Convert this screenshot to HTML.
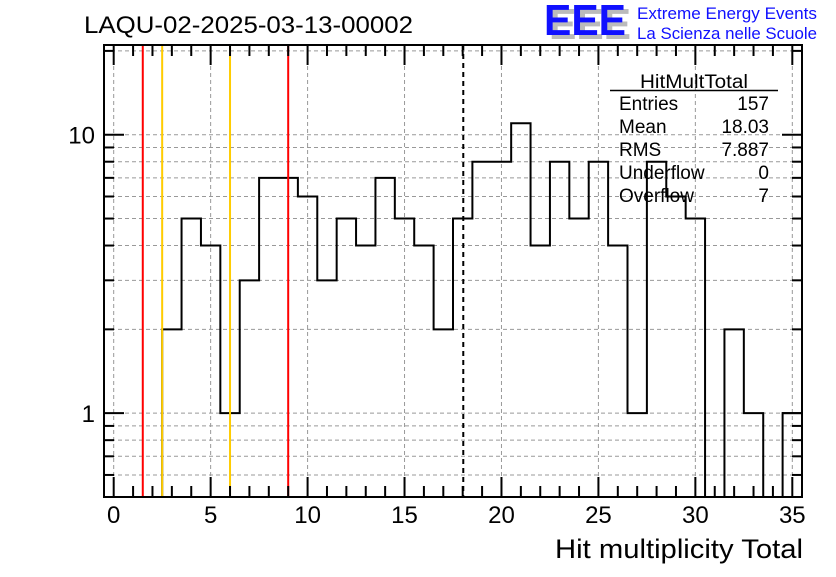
<!DOCTYPE html>
<html><head><meta charset="utf-8"><style>
body{margin:0;background:#fff;width:836px;height:572px;overflow:hidden;font-family:"Liberation Sans",Arial,sans-serif}
</style></head><body>
<svg id="c" width="836" height="572" xmlns="http://www.w3.org/2000/svg" font-family="Liberation Sans, Arial, sans-serif">
<text x="84" y="33" font-size="24" fill="#000" textLength="329" lengthAdjust="spacingAndGlyphs">LAQU-02-2025-03-13-00002</text>
<g>
<text x="549" y="39" font-size="44" font-weight="bold" fill="#bbb" textLength="82" lengthAdjust="spacingAndGlyphs">EEE</text>
<text x="544" y="35" font-size="44" font-weight="bold" fill="#1010ff" textLength="82" lengthAdjust="spacingAndGlyphs">EEE</text>
<text x="637" y="19" font-size="16.5" fill="#1010ff" textLength="180" lengthAdjust="spacingAndGlyphs">Extreme Energy Events</text>
<text x="637" y="39" font-size="16.5" fill="#1010ff" textLength="180" lengthAdjust="spacingAndGlyphs">La Scienza nelle Scuole</text>
</g>
<g id="grid"></g><g id="marks"></g><g id="axes"></g>
<g font-size="19" fill="#000">
<text x="694" y="88" text-anchor="middle" textLength="108" lengthAdjust="spacingAndGlyphs">HitMultTotal</text>
<line x1="610" y1="90.5" x2="778" y2="90.5" stroke="#000" stroke-width="1.5"/>
<text x="619" y="110">Entries</text><text x="769" y="110" text-anchor="end">157</text>
<text x="619" y="133">Mean</text><text x="769" y="133" text-anchor="end">18.03</text>
<text x="619" y="156">RMS</text><text x="769" y="156" text-anchor="end">7.887</text>
<text x="619" y="179">Underflow</text><text x="769" y="179" text-anchor="end">0</text>
<text x="619" y="202">Overflow</text><text x="769" y="202" text-anchor="end">7</text>
</g>
<text x="555" y="558" font-size="27" textLength="248" lengthAdjust="spacingAndGlyphs">Hit multiplicity Total</text>
</svg>
<script>
const binCenters=[3,4,5,6,7,8,9,10,11,12,13,14,15,16,17,18,19,20,21,22,23,24,25,26,27,28,29,30,31,32,33,34,35];
const binCounts=[2,5,4,1,3,7,7,6,3,5,4,7,5,4,2,5,8,8,11,4,8,5,8,4,1,8,6,5,0,2,1,0,1];
const xTickLabels=[0,5,10,15,20,25,30,35];
const yTickLabels=[1,10];
const redLines=[1.5,9];
const orangeLines=[2.5,6];
const meanValue=[18.03];
const L=104,R=802,T=45,B=497,XMIN=-0.5,XMAX=35.5,YMIN=0.5,YMAX=21;
const X=v=>L+(v-XMIN)/(XMAX-XMIN)*(R-L);
const Y=v=>B-(Math.log10(v)-Math.log10(YMIN))/(Math.log10(YMAX)-Math.log10(YMIN))*(B-T);
const NS="http://www.w3.org/2000/svg";
function mk(p,t,a){const e=document.createElementNS(NS,t);for(const k in a)e.setAttribute(k,a[k]);document.getElementById(p).appendChild(e);return e;}
for(let v=0;v<=35;v+=5){const g=mk('grid','line',{x1:X(v),x2:X(v),y1:T,y2:B,stroke:'#999','stroke-dasharray':'4,3'});

}
const yminor=[0.6,0.7,0.8,0.9,1,2,3,4,5,6,7,8,9,10,20];
for(const v of yminor){const g=mk('grid','line',{x1:L,x2:R,y1:Y(v),y2:Y(v),stroke:'#999','stroke-dasharray':'4,3'});

}
let d='';
const yb=v=>v>0?Y(v):B;
for(let i=0;i<binCenters.length;i++){const x0=X(binCenters[i]-0.5),x1=X(binCenters[i]+0.5),v=binCounts[i];
 if(i===0)d+=`M${x0},${B}`;
 d+=`L${x0},${yb(v)}L${x1},${yb(v)}`;}
const h=mk('marks','path',{d:d,fill:'none',stroke:'#000','stroke-width':2});


for(const v of redLines){const l=mk('marks','line',{x1:X(v),x2:X(v),y1:T,y2:B,stroke:'#ff0000','stroke-width':2});

}
for(const v of orangeLines){const l=mk('marks','line',{x1:X(v),x2:X(v),y1:T,y2:B,stroke:'#ffcc00','stroke-width':2});

}
for(const v of meanValue){const l=mk('marks','line',{x1:X(v),x2:X(v),y1:T,y2:B,stroke:'#000','stroke-width':2,'stroke-dasharray':'5,4'});

}
const f=mk('axes','rect',{x:L,y:T,width:R-L,height:B-T,fill:'none',stroke:'#000','stroke-width':2});


for(let v=0;v<=35;v++){const len=v%5===0?20:11;
 mk('axes','line',{x1:X(v),x2:X(v),y1:B,y2:B-len,stroke:'#000','stroke-width':2});
 mk('axes','line',{x1:X(v),x2:X(v),y1:T,y2:T+len,stroke:'#000','stroke-width':2});}
for(const v of yminor){const len=(v===1||v===10)?20:10;
 mk('axes','line',{x1:L,x2:L+len,y1:Y(v),y2:Y(v),stroke:'#000','stroke-width':2});
 mk('axes','line',{x1:R,x2:R-len,y1:Y(v),y2:Y(v),stroke:'#000','stroke-width':2});}
for(const v of xTickLabels){const t=mk('axes','text',{x:X(v),y:523,'font-size':24,'text-anchor':'middle'});t.textContent=v;

}
for(const v of yTickLabels){const t=mk('axes','text',{x:95,y:Y(v)+9,'font-size':24,'text-anchor':'end'});t.textContent=v;

}
</script>
</body></html>
